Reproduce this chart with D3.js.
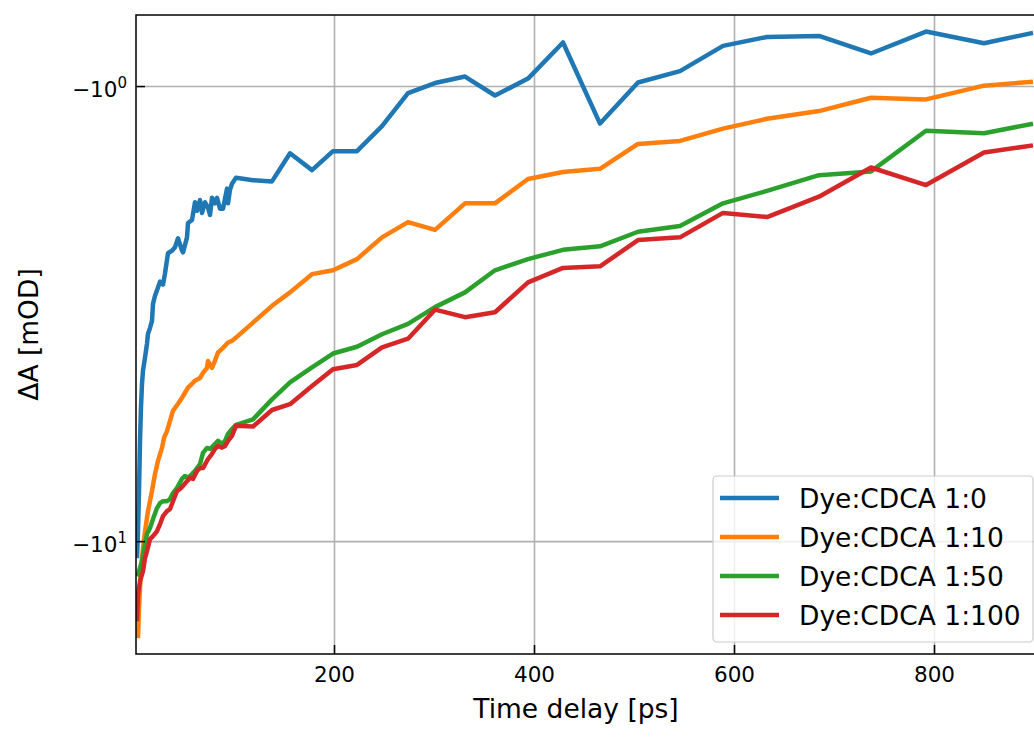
<!DOCTYPE html>
<html>
<head>
<meta charset="utf-8">
<script src="https://cdn.jsdelivr.net/npm/d3@7"></script>
<style>
  html, body { margin: 0; padding: 0; background: #fff; }
  svg { display: block; font-family: "DejaVu Sans", sans-serif; }
</style>
</head>
<body>
<svg id="chart" width="1034" height="751"></svg>
<script>
// ---------- data ----------
const seriesNames = ["Dye:CDCA 1:0", "Dye:CDCA 1:10", "Dye:CDCA 1:50", "Dye:CDCA 1:100"];
const seriesColors = ["#1f77b4", "#ff7f0e", "#2ca02c", "#d62728"];

const timesLate = [102, 119, 138, 156, 178, 199, 223, 248, 274, 301, 331, 361, 394, 429, 466, 504, 546, 589, 633, 685, 737, 792, 850, 899];

const timesBlueEarly = [3, 4, 5, 6, 7, 8, 9, 11, 13, 14, 16, 18, 19, 21, 24, 26, 29, 31, 34, 38, 41, 44, 48, 49, 53, 54, 58, 61, 63, 66, 68, 71, 74, 76, 78, 81, 83, 86, 89, 93, 94, 96, 98];
const valuesBlueEarly = [-10.90, -9.51, -7.76, -6.02, -5.07, -4.51, -4.22, -3.95, -3.68, -3.50, -3.40, -3.28, -3.01, -2.89, -2.77, -2.69, -2.73, -2.58, -2.33, -2.30, -2.26, -2.16, -2.30, -2.32, -2.15, -2.00, -1.97, -1.80, -1.88, -1.78, -1.90, -1.80, -1.85, -1.92, -1.76, -1.81, -1.76, -1.86, -1.86, -1.68, -1.81, -1.69, -1.64];
const valuesBlueLate = [-1.59, -1.61, -1.62, -1.405, -1.53, -1.39, -1.39, -1.225, -1.036, -0.985, -0.953, -1.049, -0.963, -0.802, -1.209, -0.982, -0.927, -0.816, -0.780, -0.776, -0.848, -0.759, -0.805, -0.764];

const timesOrangeEarly = [4, 5, 7, 9, 11, 14, 18, 21, 24, 28, 30, 33, 36, 39, 44, 48, 51, 54, 58, 61, 66, 69, 73, 74, 78, 81, 84, 88, 91, 94, 98];
const valuesOrangeEarly = [-16.33, -14.05, -11.47, -10.36, -9.51, -8.59, -7.76, -7.12, -6.66, -6.24, -5.93, -5.73, -5.44, -5.17, -4.99, -4.84, -4.72, -4.60, -4.51, -4.44, -4.38, -4.27, -4.16, -4.02, -4.16, -4.01, -3.85, -3.78, -3.72, -3.66, -3.63];
const valuesOrangeLate = [-3.57, -3.31, -3.04, -2.84, -2.59, -2.54, -2.40, -2.15, -1.99, -2.07, -1.81, -1.81, -1.60, -1.545, -1.52, -1.34, -1.32, -1.24, -1.18, -1.135, -1.061, -1.070, -0.998, -0.978];

const timesGreenEarly = [3, 4, 8, 11, 13, 16, 19, 23, 26, 29, 33, 36, 39, 43, 48, 51, 54, 58, 61, 66, 69, 73, 76, 79, 84, 88, 91, 94, 98];
const valuesGreenEarly = [-11.95, -11.83, -11.07, -10.15, -9.65, -9.36, -8.94, -8.46, -8.25, -8.17, -8.17, -8.08, -7.84, -7.64, -7.30, -7.19, -7.26, -7.12, -7.01, -6.77, -6.40, -6.24, -6.27, -6.18, -6.02, -6.11, -6.02, -5.81, -5.67];
const valuesGreenLate = [-5.55, -5.40, -4.88, -4.48, -4.15, -3.87, -3.74, -3.51, -3.33, -3.06, -2.84, -2.54, -2.40, -2.29, -2.25, -2.09, -2.03, -1.81, -1.70, -1.57, -1.54, -1.254, -1.27, -1.21];

const timesRedEarly = [3, 4, 6, 9, 11, 13, 16, 19, 23, 26, 29, 33, 36, 39, 43, 46, 49, 53, 56, 59, 63, 66, 69, 74, 78, 81, 84, 88, 91, 94, 98];
const valuesRedEarly = [-15.0, -13.08, -12.25, -11.64, -10.90, -10.52, -9.90, -9.75, -9.51, -9.18, -8.81, -8.59, -8.50, -8.17, -7.76, -7.68, -7.56, -7.38, -7.26, -7.30, -7.01, -6.91, -6.91, -6.60, -6.43, -6.27, -6.18, -6.23, -6.18, -6.02, -5.87];
const valuesRedLate = [-5.58, -5.60, -5.15, -5.00, -4.56, -4.19, -4.10, -3.75, -3.59, -3.10, -3.22, -3.14, -2.70, -2.51, -2.49, -2.18, -2.15, -1.90, -1.94, -1.75, -1.51, -1.65, -1.40, -1.35];

const xTicks = [200, 400, 600, 800];
const yTicks = [-1, -10];
const yTickExponents = ["0", "1"];
const xLabel = "Time delay [ps]";
const yLabel = "ΔA [mOD]";

// ---------- build ----------
function zipSeries(tE, vE, tL, vL) {
  return tE.map((t, i) => ({t, v: vE[i]})).concat(tL.map((t, i) => ({t, v: vL[i]})));
}
const series = [
  zipSeries(timesBlueEarly, valuesBlueEarly, timesLate, valuesBlueLate),
  zipSeries(timesOrangeEarly, valuesOrangeEarly, timesLate, valuesOrangeLate),
  zipSeries(timesGreenEarly, valuesGreenEarly, timesLate, valuesGreenLate),
  zipSeries(timesRedEarly, valuesRedEarly, timesLate, valuesRedLate)
];

const L = 136, R = 1043, T = 15, B = 654;
const svg = d3.select("#chart");

const x = d3.scaleLinear().domain([2, 909]).range([L, R]);
const y = d3.scaleLog().domain([-0.698, -17.7]).range([T, B]);

svg.append("defs").append("clipPath").attr("id", "clip")
  .append("rect").attr("x", L).attr("y", T).attr("width", R - L).attr("height", B - T);

// grid
const gx = svg.append("g").attr("transform", `translate(0,${B})`)
  .call(d3.axisBottom(x).tickValues(xTicks).tickSize(-(B - T)).tickFormat(""));
gx.select(".domain").remove();
gx.selectAll("line").attr("stroke", "#b0b0b0").attr("stroke-width", 1.6);

const gy = svg.append("g").attr("transform", `translate(${L},0)`)
  .call(d3.axisLeft(y).tickValues(yTicks).tickSize(-(R - L)).tickFormat(""));
gy.select(".domain").remove();
gy.selectAll("line").attr("stroke", "#b0b0b0").attr("stroke-width", 1.6);

// lines
const line = d3.line().x(d => x(d.t)).y(d => y(d.v));
const plot = svg.append("g").attr("clip-path", "url(#clip)");
series.forEach((s, i) => {
  plot.append("path").datum(s)
    .attr("fill", "none")
    .attr("stroke", seriesColors[i])
    .attr("stroke-width", 4.5)
    .attr("stroke-linejoin", "round")
    .attr("stroke-linecap", "butt")
    .attr("d", line);
});

// axes ticks (inward)
const ax = svg.append("g").attr("transform", `translate(0,${B})`)
  .call(d3.axisBottom(x).tickValues(xTicks).tickSize(-9).tickPadding(13).tickFormat(d3.format("d")));
ax.select(".domain").remove();
ax.selectAll("line").attr("stroke", "#000").attr("stroke-width", 1.5);
ax.selectAll("text").attr("font-size", 21.5).attr("fill", "#000")
  .attr("font-family", "DejaVu Sans").attr("dy", "0.71em");

const ay = svg.append("g").attr("transform", `translate(${L},0)`)
  .call(d3.axisLeft(y).tickValues(yTicks).tickSize(-9).tickFormat(""));
ay.select(".domain").remove();
ay.selectAll("line").attr("stroke", "#000").attr("stroke-width", 1.5);
ay.selectAll(".tick").each(function(d, i) {
  const t = d3.select(this).append("text")
    .attr("x", -9).attr("y", 0).attr("dy", "0.5em")
    .attr("text-anchor", "end").attr("fill", "#000")
    .attr("font-size", 21.5).attr("font-family", "DejaVu Sans");
  t.append("tspan").text("−10");
  t.append("tspan").attr("dy", "-0.6em").attr("font-size", 15).text(yTickExponents[i]);
});

// frame
svg.append("rect").attr("x", L).attr("y", T).attr("width", R - L).attr("height", B - T)
  .attr("fill", "none").attr("stroke", "#000").attr("stroke-width", 1.5);

// labels
svg.append("text").attr("x", 576).attr("y", 718).attr("text-anchor", "middle")
  .attr("font-size", 26.5).attr("fill", "#000").text(xLabel);
svg.append("text").attr("transform", `translate(38,${(T + B) / 2}) rotate(-90)`)
  .attr("text-anchor", "middle").attr("font-size", 26.5).attr("fill", "#000").text(yLabel);

// legend
const lg = svg.append("g");
lg.append("rect").attr("x", 713).attr("y", 476).attr("width", 320).attr("height", 166)
  .attr("rx", 4).attr("fill", "#fff").attr("fill-opacity", 0.8)
  .attr("stroke", "#cccccc").attr("stroke-width", 1.2);
seriesNames.forEach((name, i) => {
  const yy = 498 + i * 39;
  lg.append("line").attr("x1", 720).attr("x2", 779).attr("y1", yy).attr("y2", yy)
    .attr("stroke", seriesColors[i]).attr("stroke-width", 4.5);
  lg.append("text").attr("x", 799).attr("y", yy).attr("dy", "0.36em")
    .attr("font-size", 26.5).attr("fill", "#000").text(name);
});
</script>
</body>
</html>
